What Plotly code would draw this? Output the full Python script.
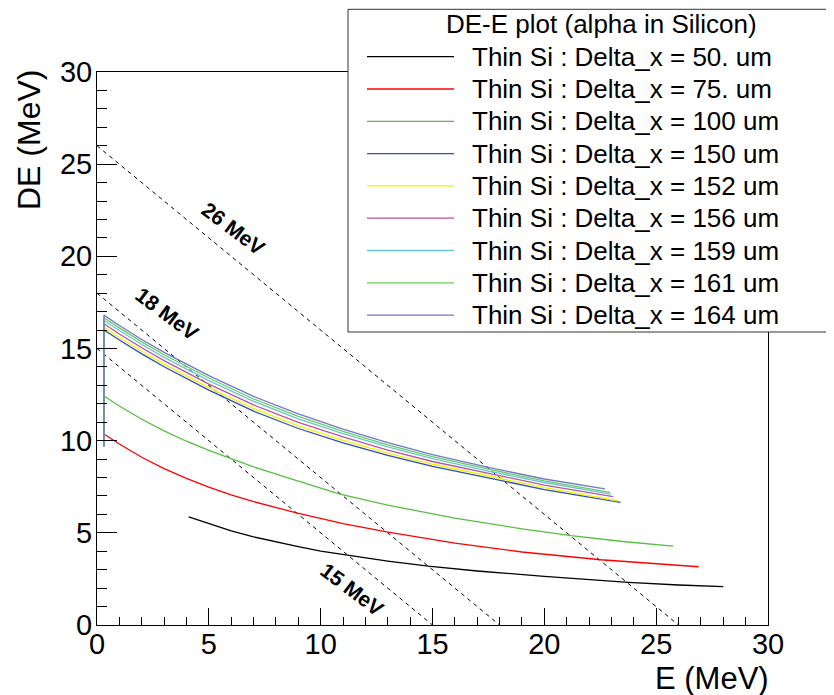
import plotly.graph_objects as go

# ---------------- data ----------------
labels = ["Thin Si : Delta_x = 50. um", "Thin Si : Delta_x = 75. um",
          "Thin Si : Delta_x = 100 um", "Thin Si : Delta_x = 150 um",
          "Thin Si : Delta_x = 152 um", "Thin Si : Delta_x = 156 um",
          "Thin Si : Delta_x = 159 um", "Thin Si : Delta_x = 161 um",
          "Thin Si : Delta_x = 164 um"]
colors = ["#000000", "#ff0000", "#55c040", "#2a4cc8", "#f2f200",
          "#c0509a", "#60c8d8", "#70c860", "#7078c8"]

E_50 = [4.1, 5.0, 6.0, 7.0, 8.0, 9.0, 10.0, 11.23, 13.0, 14.81, 17.0, 20.0, 23.75, 26.0, 28.0]
DE_50 = [5.87, 5.50, 5.10, 4.78, 4.50, 4.25, 4.01, 3.79, 3.47, 3.19, 2.93, 2.64, 2.31, 2.17, 2.08]

E_75 = [0.31, 0.31, 1, 2, 3, 4, 5, 6, 7, 8.92, 11, 12.95, 16, 19, 22.53, 24.7, 26.9]
DE_75 = [9.7, 10.36, 9.82, 9.10, 8.48, 7.95, 7.48, 7.06, 6.69, 6.08, 5.50, 5.05, 4.44, 3.96, 3.54, 3.35, 3.16]

E_100 = [0.31, 0.31, 1, 2, 3, 4, 5, 5.95, 7, 8.5, 10.86, 13, 16, 19, 21.2, 23.5, 25.76]
DE_100 = [9.7, 12.42, 11.88, 11.16, 10.53, 9.97, 9.47, 9.03, 8.58, 8.0, 7.10, 6.5, 5.8, 5.22, 4.85, 4.53, 4.28]

E_150 = [0.31, 0.31, 1, 2, 3, 5, 7, 9, 11, 13, 15, 17.5, 20, 23.41]
DE_150 = [9.7, 16.0, 15.46, 14.71, 14.01, 12.74, 11.6, 10.66, 9.88, 9.2, 8.6, 7.96, 7.35, 6.65]

E_152 = [0.31, 0.31, 1, 2, 3, 5, 7, 9, 11, 13, 15, 17.5, 20, 23.26]
DE_152 = [9.7, 16.15, 15.60, 14.85, 14.15, 12.88, 11.74, 10.80, 10.02, 9.32, 8.72, 8.07, 7.45, 6.74]

E_156 = [0.31, 0.31, 1, 2, 3, 5, 7, 9, 11, 13, 15, 17.5, 20, 23.08]
DE_156 = [9.7, 16.34, 15.79, 15.04, 14.34, 13.07, 11.94, 10.99, 10.20, 9.49, 8.87, 8.21, 7.59, 6.96]

E_159 = [0.31, 0.31, 1, 2, 3, 5, 7, 9, 11, 13, 15, 17.5, 20, 22.98]
DE_159 = [9.7, 16.53, 15.98, 15.22, 14.52, 13.26, 12.13, 11.18, 10.38, 9.66, 9.02, 8.35, 7.73, 7.10]

E_161 = [0.31, 0.31, 1, 2, 3, 5, 7, 9, 11, 13, 15, 17.5, 20, 22.93]
DE_161 = [9.7, 16.67, 16.12, 15.36, 14.66, 13.40, 12.26, 11.32, 10.50, 9.77, 9.13, 8.45, 7.82, 7.19]

E_164 = [0.31, 0.31, 1, 2, 3, 5, 7, 9, 11, 13, 15, 17.5, 20, 22.71]
DE_164 = [9.7, 16.81, 16.25, 15.49, 14.79, 13.53, 12.40, 11.45, 10.62, 9.89, 9.24, 8.55, 7.92, 7.38]

series_E = [E_50, E_75, E_100, E_150, E_152, E_156, E_159, E_161, E_164]
series_DE = [DE_50, DE_75, DE_100, DE_150, DE_152, DE_156, DE_159, DE_161, DE_164]

# total-energy iso-lines E + DE = const
total_energies = [26, 18, 15]
iso_labels = ["26 MeV", "18 MeV", "15 MeV"]
iso_label_E = [6.09, 3.12, 11.42]
iso_label_DE = [21.5, 16.9, 1.94]

legend_title = "DE-E plot (alpha in Silicon)"
x_title = "E (MeV)"
y_title = "DE (MeV)"

# ---------------- figure ----------------
OX, OY = 8, 8                     # page offset of the plot div (body margin)
W, H = 826, 687
L, R, T, B = 89, 66, 64, 70
PW, PH = W - L - R, H - T - B
FONT = "Liberation Sans, Arial, Helvetica, sans-serif"


def px(xp):
    """page x pixel -> paper coordinate"""
    return (xp - OX - L) / PW


def py(yp):
    """page y pixel -> paper coordinate"""
    return (OY + T + PH - yp) / PH


fig = go.Figure()

for c in total_energies:
    fig.add_trace(go.Scatter(x=[0, c], y=[c, 0], mode="lines",
                             line=dict(color="black", width=1, dash="4px,4px"),
                             showlegend=False, hoverinfo="skip"))

for E, DE, name, col in zip(series_E, series_DE, labels, colors):
    fig.add_trace(go.Scatter(x=E, y=DE, mode="lines", name=name,
                             line=dict(color=col, width=1.3),
                             showlegend=False))

for t, xe, yd in zip(iso_labels, iso_label_E, iso_label_DE):
    fig.add_annotation(x=xe, y=yd, xref="x", yref="y", text=t, showarrow=False,
                       textangle=37, font=dict(family=FONT, size=21, color="black",
                                               weight="bold"))

axis_common = dict(range=[0, 30], dtick=5, tick0=0, showgrid=False, zeroline=False,
                   showline=True, linecolor="black", linewidth=1, mirror=True,
                   ticks="inside", tickcolor="black", tickwidth=1,
                   tickfont=dict(family=FONT, size=29, color="black"))

fig.update_xaxes(**axis_common, ticklen=17, ticklabelstandoff=-7,
                 minor=dict(dtick=1, ticks="inside", ticklen=8, tickcolor="black"))
fig.update_yaxes(**axis_common, ticklen=20, ticklabelstandoff=-2,
                 minor=dict(dtick=1, ticks="inside", ticklen=10, tickcolor="black"))

# axis titles
fig.add_annotation(xref="paper", yref="paper", x=px(29), y=py(68), text=y_title,
                   textangle=-90, xanchor="center", yanchor="top", showarrow=False,
                   font=dict(family=FONT, size=32, color="black"))
fig.add_annotation(xref="paper", yref="paper", x=px(771), y=py(678), text=x_title,
                   xanchor="right", yanchor="middle", showarrow=False,
                   font=dict(family=FONT, size=31, color="black"))

# legend box (drawn manually to mimic the ROOT TLegend)
fig.add_shape(type="rect", xref="paper", yref="paper", x0=px(348), x1=px(845),
              y0=py(332), y1=py(9.3), line=dict(color="#333333", width=1),
              fillcolor="white", layer="above")
fig.add_annotation(xref="paper", yref="paper", x=px(601.7), y=py(24), text=legend_title,
                   xanchor="center", yanchor="middle", showarrow=False,
                   font=dict(family=FONT, size=26, color="black"))
for i, (name, col) in enumerate(zip(labels, colors)):
    yrow = 56.7 + 32.3 * i
    fig.add_shape(type="line", xref="paper", yref="paper", x0=px(367), x1=px(454),
                  y0=py(yrow), y1=py(yrow), line=dict(color=col, width=1.3), layer="above")
    fig.add_annotation(xref="paper", yref="paper", x=px(470), y=py(yrow), text=name,
                       xanchor="left", yanchor="middle", showarrow=False,
                       font=dict(family=FONT, size=26, color="black"))

fig.update_layout(width=W, height=H, margin=dict(l=L, r=R, t=T, b=B),
                  plot_bgcolor="white", paper_bgcolor="white", showlegend=False)

fig.write_html("out.html")
